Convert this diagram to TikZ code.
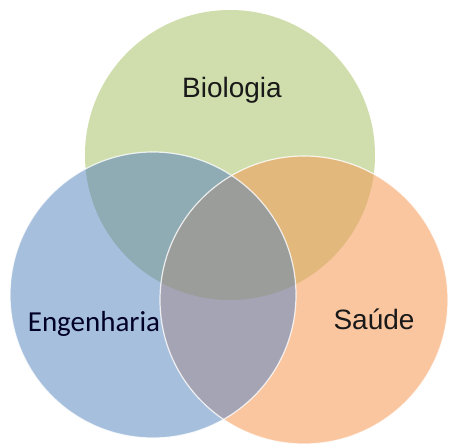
\documentclass[tikz,border=0pt]{standalone}
\usepackage{fontspec}
\setmainfont{Liberation Sans}
\newfontfamily\calfont{Carlito}
\definecolor{cg}{RGB}{207,222,172}
\definecolor{cb}{RGB}{166,191,221}
\definecolor{co}{RGB}{250,198,160}
\definecolor{cgb}{RGB}{143,171,179}
\definecolor{cgo}{RGB}{226,184,124}
\definecolor{cbo}{RGB}{165,164,181}
\definecolor{call}{RGB}{155,157,154}
\tikzset{lbl/.style={font=\fontsize{28}{32}\selectfont, text=black!90, anchor=base, inner sep=0pt},
  lblc/.style={font=\calfont\fontsize{29}{33}\selectfont, text=black!85!blue, anchor=base, inner sep=0pt}}
\begin{document}
\begin{tikzpicture}[x=1pt,y=-1pt]
\useasboundingbox (0,0) rectangle (450,444);
\fill[white] (0,0) rectangle (450,444);
\def\G{(230,155) circle[radius=145]}
\def\B{(153,295) circle[radius=143]}
\def\O{(304,300) circle[radius=144]}
\fill[cg] \G;
\fill[cb] \B;
\fill[co] \O;
\begin{scope}\clip \G; \fill[cgb] \B; \fill[cgo] \O; \end{scope}
\begin{scope}\clip \B; \fill[cbo] \O; \end{scope}
\begin{scope}\clip \G; \clip \B; \fill[call] \O; \end{scope}
\draw[white, line width=1.2pt, opacity=0.8] \B;
\draw[white, line width=1.2pt, opacity=0.8] \O;
\node[lbl] (bio) at (232,98) {Biologia};
\node[lblc] (eng) at (94,331) {Engenharia};
\node[lbl] (sau) at (374,329) {Saúde};
\end{tikzpicture}
\end{document}
